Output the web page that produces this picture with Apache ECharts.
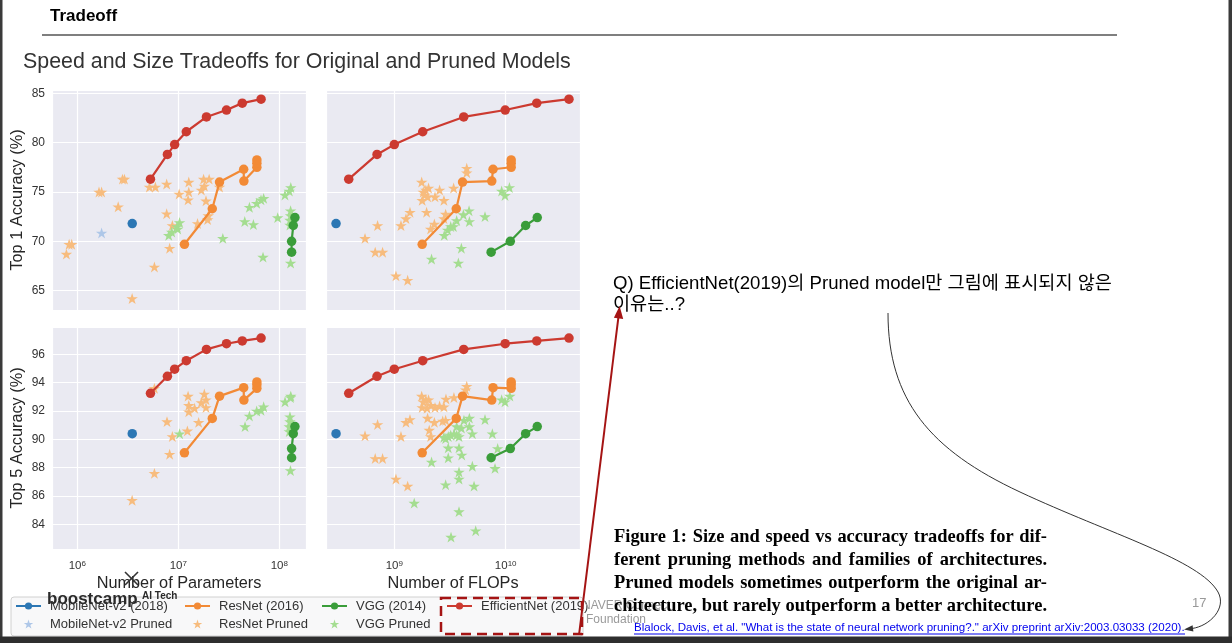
<!DOCTYPE html>
<html><head><meta charset="utf-8">
<script src="https://cdn.jsdelivr.net/npm/echarts@6/dist/echarts.min.js"></script>
<style>html,body{margin:0;padding:0;background:#fff;}#c{width:1232px;height:643px;}</style>
</head><body><div id="c"></div>
<script>
// ---------------- DATA ----------------
// MobileNet-v2 (2018)
const mobileParamsM = [3.5];
const mobileFlopsB = [0.30];
const mobileTop1 = [71.8];
const mobileTop5 = [90.4];
// ResNet (2016): 18, 34, 50, 101, 101, 152, 152, 152
const resnetParamsM = [11.5, 21.7, 25.6, 44.4, 44.6, 60.0, 60.0, 60.0];
const resnetFlopsB = [1.78, 3.6, 4.1, 7.7, 7.5, 11.2, 11.2, 11.2];
const resnetTop1 = [69.7, 73.3, 76.0, 77.3, 76.1, 77.5, 77.9, 78.25];
const resnetTop5 = [89.05, 91.48, 93.05, 93.65, 92.77, 93.6, 93.85, 94.05];
// VGG (2014)
const vggParamsM = [132.4, 132.4, 137.5, 142.8];
const vggFlopsB = [7.4, 11.0, 15.1, 19.2];
const vggTop1 = [68.9, 70.0, 71.6, 72.4];
const vggTop5 = [88.7, 89.35, 90.4, 90.9];
// EfficientNet (2019)
const effParamsM = [5.3, 7.8, 9.2, 12, 19, 30, 43, 66];
const effFlopsB = [0.39, 0.70, 1.0, 1.8, 4.2, 9.9, 19, 37];
const effTop1 = [76.3, 78.8, 79.8, 81.1, 82.6, 83.3, 84.0, 84.4];
const effTop5 = [93.25, 94.45, 94.95, 95.55, 96.35, 96.75, 96.95, 97.15];

// Pruned models: [params (M) or FLOPs (B), accuracy]
const mobilePrunedParamsTop1 = [[1.74, 70.85]];
const mobilePrunedFlopsTop1 = [];
const mobilePrunedParamsTop5 = [];
const mobilePrunedFlopsTop5 = [];

const resnetPrunedParamsTop1 = [[0.78,68.7],[0.83,69.7],[0.88,69.7],[1.64,75.0],[1.74,75.0],[2.54,73.5],[2.80,76.3],[2.93,76.3],[3.49,64.2],[5.18,75.5],[5.93,75.5],[5.80,67.4],[7.67,75.8],[7.67,72.8],[8.21,69.3],[8.73,71.6],[10.2,74.8],[12.7,76.0],[12.7,75.0],[12.5,74.2],[15.5,71.8],[16.9,75.2],[17.8,76.3],[18.1,75.6],[18.8,74.1],[20.2,76.3],[19.5,72.2],[19.8,72.6],[25.6,75.5]];
const vggPrunedParamsTop1 = [[8.04,70.6],[8.6,70.95],[9.7,71.5],[10.3,71.9],[9.85,71.25],[27.6,70.3],[45.5,72.0],[55.4,71.7],[50.6,73.45],[59.7,73.85],[65.9,74.2],[70.0,74.35],[69.0,68.4],[96.4,72.4],[113.8,74.7],[130,75.45],[125.6,75.1],[129.4,73.1],[129.4,72.6],[127.5,72.15],[127.5,71.65],[129.4,67.8]];

const resnetPrunedFlopsTop1 = [[0.546,70.3],[0.708,71.6],[0.674,68.9],[0.785,68.9],[1.035,66.5],[1.318,66.05],[1.148,71.6],[1.273,72.3],[1.383,72.95],[1.762,76.0],[1.82,75.0],[1.92,75.2],[2.03,75.4],[1.88,74.7],[1.78,74.15],[1.99,74.5],[2.32,74.5],[2.55,75.2],[2.79,74.15],[1.95,72.95],[2.12,71.25],[2.29,71.75],[2.89,72.75],[2.79,72.3],[3.41,75.4],[4.47,77.4],[4.47,76.95]];
const vggPrunedFlopsTop1 = [[2.16,68.2],[3.76,67.8],[4.0,69.3],[2.81,70.6],[3.01,71.15],[3.21,71.5],[3.39,71.5],[3.63,72.1],[4.17,72.7],[4.69,73.1],[4.72,72.0],[6.52,72.5],[9.2,75.1],[9.86,74.65],[10.8,75.45]];

const resnetPrunedParamsTop5 = [[3.49,85.7],[5.80,87.6],[5.80,93.6],[7.73,91.25],[8.21,88.95],[8.73,90.2],[12.3,90.6],[12.5,93.05],[12.7,92.4],[12.7,91.95],[14.5,92.2],[15.9,91.2],[16.9,92.6],[18.1,93.2],[18.8,92.8],[18.8,92.25]];
const vggPrunedParamsTop5 = [[10.3,90.4],[45.8,90.9],[50.6,91.65],[59.7,92.0],[65.9,92.05],[70.0,92.3],[114,92.65],[129,92.95],[130,93.05],[127.5,91.6],[127.5,91.25],[125.6,90.9],[125.6,90.55],[129,87.8]];

const resnetPrunedFlopsTop5 = [[0.546,90.25],[0.708,91.05],[0.674,88.65],[0.785,88.65],[1.035,87.2],[1.318,86.7],[1.148,90.2],[1.273,91.2],[1.383,91.4],[1.762,93.05],[1.82,92.65],[1.92,92.8],[2.03,92.8],[1.78,92.25],[1.97,92.2],[1.99,91.5],[2.13,92.4],[2.32,92.25],[2.55,92.35],[2.79,92.3],[2.91,92.85],[3.43,92.95],[4.47,93.75],[4.37,93.5],[2.06,90.65],[2.12,90.2],[2.29,91.2],[2.72,91.3],[2.89,91.35]];
const vggPrunedFlopsTop5 = [[2.16,88.4],[1.51,85.5],[2.89,86.8],[3.81,87.2],[3.81,87.7],[4.03,88.9],[3.81,89.4],[3.05,89.4],[3.05,88.7],[2.89,90.05],[3.05,90.2],[3.21,90.3],[3.44,90.4],[3.63,90.3],[3.81,90.2],[4.22,91.35],[4.72,91.5],[3.63,90.9],[4.0,90.8],[4.72,90.9],[5.02,90.4],[5.02,88.1],[5.2,86.7],[6.52,91.4],[7.59,90.4],[8.47,89.35],[8.02,87.95],[3.81,84.9],[3.23,83.1],[5.38,83.55],[9.2,92.8],[9.86,92.65],[10.9,93.05],[2.79,90.15]];

// Axis tick labels / names
const yTicksTop = [65, 70, 75, 80, 85];
const yTicksBottom = [84, 86, 88, 90, 92, 94, 96];
const seriesNames = ['MobileNet-v2 (2018)', 'ResNet (2016)', 'VGG (2014)', 'EfficientNet (2019)', 'MobileNet-v2 Pruned', 'ResNet Pruned', 'VGG Pruned'];

// ---------------- CHART ----------------
const SANS = '"Liberation Sans", Arial, sans-serif';
const SERIF = '"Liberation Serif", "Times New Roman", serif';
const COL = {blue:'#2c77b4', orange:'#f28a36', green:'#3a9d3a', red:'#cc3a30', lblue:'#aec7e8', lorange:'#f7bc7e', lgreen:'#a4dd90'};
const M = 1e6, B = 1e9;
const STAR = 'path://M50,0 L61.23,34.55 L97.55,34.55 L68.16,55.9 L79.39,90.45 L50,69.1 L20.61,90.45 L31.84,55.9 L2.45,34.55 L38.77,34.55 Z';

const gridBox = [
  {left:52, top:90, width:254, height:220},
  {left:326, top:90, width:254, height:220},
  {left:52, top:327, width:254, height:222},
  {left:326, top:327, width:254, height:222}
];
const grids = gridBox.map(g => Object.assign({show:true, backgroundColor:'#EAEAF2', borderWidth:0, containLabel:false, outerBoundsMode:'none'}, g));

function logLabel(v) {
  const e = Math.log10(v), r = Math.round(e);
  if (Math.abs(e - r) > 1e-6) return '';
  return '{b|10}{s|' + r + '}';
}
function xAxisDef(gi, min, max, showLabel, name) {
  return {type:'log', logBase:10, gridIndex:gi, min, max,
    axisLine:{show:false}, axisTick:{show:false},
    splitLine:{show:true, lineStyle:{color:'#ffffff', width:1.2}},
    axisLabel:{show:showLabel, margin:11, formatter:logLabel,
      rich:{b:{fontSize:11.5, fontFamily:SANS, color:'#333', verticalAlign:'bottom'},
            s:{fontSize:8, fontFamily:SANS, color:'#333', verticalAlign:'top'}}},
    name: name || '', nameLocation:'middle', nameGap:27,
    nameTextStyle:{fontSize:16.3, fontFamily:SANS, color:'#262626'}};
}
function yAxisDef(gi, min, max, step, ticks, showLabel, name) {
  return {type:'value', gridIndex:gi, min, max, minInterval:step, maxInterval:step,
    axisLine:{show:false}, axisTick:{show:false},
    splitLine:{show:true, lineStyle:{color:'#ffffff', width:1.2}},
    axisLabel:{show:showLabel, margin:7, fontSize:12, fontFamily:SANS, color:'#333',
      formatter: v => (ticks.some(t => Math.abs(t - v) < 1e-6) ? String(Math.round(v)) : '')},
    name: name || '', nameLocation:'middle', nameGap:26, nameRotate:90,
    nameTextStyle:{fontSize:16.3, fontFamily:SANS, color:'#262626'}};
}

const xL = [Math.pow(10, 5.7495), Math.pow(10, 8.2644)];
const xR = [Math.pow(10, 8.387), Math.pow(10, 10.667)];
const yT = [63.04, 85.33];
const yB = [82.26, 97.93];

const xAxes = [
  xAxisDef(0, xL[0], xL[1], false),
  xAxisDef(1, xR[0], xR[1], false),
  xAxisDef(2, xL[0], xL[1], true, 'Number of Parameters'),
  xAxisDef(3, xR[0], xR[1], true, 'Number of FLOPs')
];
const yAxes = [
  yAxisDef(0, yT[0], yT[1], 5, yTicksTop, true, 'Top 1 Accuracy (%)'),
  yAxisDef(1, yT[0], yT[1], 5, yTicksTop, false),
  yAxisDef(2, yB[0], yB[1], 2, yTicksBottom, true, 'Top 5 Accuracy (%)'),
  yAxisDef(3, yB[0], yB[1], 2, yTicksBottom, false)
];

function lineS(name, color, xs, scale, ys, gi) {
  const pts = xs.map((x, i) => [x * scale, ys[i]]).sort((a, b) => a[0] - b[0]);
  return {type:'line', name, xAxisIndex:gi, yAxisIndex:gi, data:pts, symbol:'circle', symbolSize:9.5,
    showSymbol:true, lineStyle:{color, width:2.2}, itemStyle:{color}, z:4, silent:true,
    emphasis:{disabled:true}, animation:false};
}
function starS(name, color, pts, scale, gi) {
  return {type:'scatter', name, xAxisIndex:gi, yAxisIndex:gi, data:pts.map(p => [p[0] * scale, p[1]]),
    symbol:STAR, symbolSize:11.5, symbolKeepAspect:true, itemStyle:{color, opacity:1}, z:2, silent:true,
    emphasis:{disabled:true}, animation:false};
}

const panels = [
  {gi:0, sc:M, mx:mobileParamsM, rx:resnetParamsM, vx:vggParamsM, ex:effParamsM, my:mobileTop1, ry:resnetTop1, vy:vggTop1, ey:effTop1,
   mp:mobilePrunedParamsTop1, rp:resnetPrunedParamsTop1, vp:vggPrunedParamsTop1},
  {gi:1, sc:B, mx:mobileFlopsB, rx:resnetFlopsB, vx:vggFlopsB, ex:effFlopsB, my:mobileTop1, ry:resnetTop1, vy:vggTop1, ey:effTop1,
   mp:mobilePrunedFlopsTop1, rp:resnetPrunedFlopsTop1, vp:vggPrunedFlopsTop1},
  {gi:2, sc:M, mx:mobileParamsM, rx:resnetParamsM, vx:vggParamsM, ex:effParamsM, my:mobileTop5, ry:resnetTop5, vy:vggTop5, ey:effTop5,
   mp:mobilePrunedParamsTop5, rp:resnetPrunedParamsTop5, vp:vggPrunedParamsTop5},
  {gi:3, sc:B, mx:mobileFlopsB, rx:resnetFlopsB, vx:vggFlopsB, ex:effFlopsB, my:mobileTop5, ry:resnetTop5, vy:vggTop5, ey:effTop5,
   mp:mobilePrunedFlopsTop5, rp:resnetPrunedFlopsTop5, vp:vggPrunedFlopsTop5}
];
const series = [];
panels.forEach(p => {
  series.push(starS(seriesNames[4], COL.lblue, p.mp, p.sc, p.gi));
  series.push(starS(seriesNames[5], COL.lorange, p.rp, p.sc, p.gi));
  series.push(starS(seriesNames[6], COL.lgreen, p.vp, p.sc, p.gi));
  series.push(lineS(seriesNames[0], COL.blue, p.mx, p.sc, p.my, p.gi));
  series.push(lineS(seriesNames[1], COL.orange, p.rx, p.sc, p.ry, p.gi));
  series.push(lineS(seriesNames[2], COL.green, p.vx, p.sc, p.vy, p.gi));
  series.push(lineS(seriesNames[3], COL.red, p.ex, p.sc, p.ey, p.gi));
});

const legendBase = {orient:'vertical', top:599, itemWidth:25, itemHeight:9, itemGap:4, padding:0,
  selectedMode:false, z:10,
  textStyle:{fontSize:13, fontFamily:SANS, color:'#333', lineHeight:14, padding:[0,0,0,4]}};
const legends = [
  Object.assign({}, legendBase, {left:15, data:[seriesNames[0], seriesNames[4]]}),
  Object.assign({}, legendBase, {left:184, data:[seriesNames[1], seriesNames[5]]}),
  Object.assign({}, legendBase, {left:321, data:[seriesNames[2], seriesNames[6]]}),
  Object.assign({}, legendBase, {left:446, data:[seriesNames[3]]})
];

// ---------------- SLIDE DECORATION ----------------
const mctx = document.createElement('canvas').getContext('2d');
function measure(text, font) { mctx.font = font; return mctx.measureText(text).width; }
const G = [];
function txt(x, y, text, font, fill, z, align) {
  G.push({type:'text', x, y, z: z == null ? 50 : z, silent:true,
    style:{text, font, fill, textAlign: align || 'left', textVerticalAlign:'middle'}});
}
function ln(x1, y1, x2, y2, stroke, w, z, dash) {
  const st = {stroke, lineWidth:w, fill:null};
  if (dash) st.lineDash = dash;
  G.push({type:'line', z: z == null ? 50 : z, silent:true, shape:{x1, y1, x2, y2}, style:st});
}
function poly(points, fill, z) {
  G.push({type:'polygon', z: z == null ? 50 : z, silent:true, shape:{points}, style:{fill}});
}

// frame
G.push({type:'rect', z:60, silent:true, shape:{x:0, y:0, width:2.5, height:643}, style:{fill:'#3a3a3a'}});
G.push({type:'rect', z:60, silent:true, shape:{x:1228.5, y:0, width:4, height:643}, style:{fill:'#3a3a3a'}});
G.push({type:'rect', z:60, silent:true, shape:{x:0, y:636.5, width:1232, height:7}, style:{fill:'#2e2e2e'}});

// header
txt(50, 16, 'Tradeoff', 'bold 17px ' + SANS, '#000');
ln(42, 35, 1117, 35, '#555', 1.5);
const title = 'Speed and Size Tradeoffs for Original and Pruned Models';
const titleSize = 20 * 548 / measure(title, '20px ' + SANS);
txt(23, 62, title, titleSize.toFixed(2) + 'px ' + SANS, '#333');

// question text
const qFontBase = '"Liberation Sans", "Noto Sans CJK KR", sans-serif';
const q1 = 'Q) EfficientNet(2019)의 Pruned model만 그림에 표시되지 않은';
let qSize = 17 * 499 / measure(q1, '17px ' + qFontBase);
qSize = Math.max(14, Math.min(19, qSize));
txt(613, 284, q1, qSize.toFixed(2) + 'px ' + qFontBase, '#000');
txt(613, 305, '이유는..?', qSize.toFixed(2) + 'px ' + qFontBase, '#000');

// NAVER logo text (behind caption)
txt(582, 606, 'NAVER Connect', '12px ' + SANS, '#9a9a9a', 40);
txt(586, 620, 'Foundation', '12px ' + SANS, '#9a9a9a', 40);

// caption (justified)
const capLines = ['Figure 1: Size and speed vs accuracy tradeoffs for dif-',
  'ferent pruning methods and families of architectures.',
  'Pruned models sometimes outperform the original ar-',
  'chitecture, but rarely outperform a better architecture.'];
const capX0 = 614, capW = 433, capY = [537, 560, 583, 606];
let capMax = 0;
capLines.forEach(l => { capMax = Math.max(capMax, measure(l, 'bold 17px ' + SERIF)); });
const capSize = 17 * capW / capMax;
const capFont = 'bold ' + capSize.toFixed(2) + 'px ' + SERIF;
capLines.forEach((l, li) => {
  const words = l.split(' ');
  const ws = words.map(w => measure(w, capFont));
  const sum = ws.reduce((a, b) => a + b, 0);
  const gap = (capW - sum) / (words.length - 1);
  let x = capX0;
  words.forEach((w, i) => { txt(x, capY[li], w, capFont, '#000', 45); x += ws[i] + gap; });
});

// page number
txt(1192, 603, '17', '13px ' + SANS, '#999');

// citation
const cite = 'Blalock, Davis, et al. "What is the state of neural network pruning?." arXiv preprint arXiv:2003.03033 (2020).';
const citeSize = 10 * 551 / measure(cite, '10px ' + SANS);
txt(634, 628, cite, citeSize.toFixed(2) + 'px ' + SANS, '#0000ee');
ln(634, 634, 1185, 634, '#0000ee', 1);

// legend box
G.push({type:'rect', z:1, silent:true, shape:{x:11, y:597, width:572, height:39, r:3},
  style:{fill:'#f8f8f9', stroke:'#d0d0d0', lineWidth:1}});

// boostcamp logo overlay
txt(47, 599, 'boostcamp', 'bold 17px ' + SANS, '#2a2a2a', 80);
txt(142, 596, 'AI Tech', 'bold 10px ' + SANS, '#2a2a2a', 80);
ln(125, 572, 138, 585, '#333', 1.6, 80);
ln(138, 572, 125, 585, '#333', 1.6, 80);

// dashed red box
G.push({type:'rect', z:90, silent:true, shape:{x:441, y:598, width:141, height:36},
  style:{fill:null, stroke:'#a51414', lineWidth:2.5, lineDash:[10, 6]}});

// red arrow
ln(579, 635, 618.3, 318, '#a51414', 2, 90);
poly([[619.6, 306], [623.2, 319], [613.9, 317.8]], '#a51414', 90);

// curved arrow
const curveStyle = {stroke:'#333', lineWidth:1, fill:null};
G.push({type:'bezierCurve', z:50, silent:true, shape:{x1:888, y1:313, cpx1:888, cpy1:400, cpx2:930, cpy2:450, x2:1020, y2:492}, style:curveStyle});
G.push({type:'bezierCurve', z:50, silent:true, shape:{x1:1020, y1:492, cpx1:1110, cpy1:534, cpx2:1200, cpy2:560, x2:1218, y2:592}, style:curveStyle});
G.push({type:'bezierCurve', z:50, silent:true, shape:{x1:1218, y1:592, cpx1:1227, cpy1:608, cpx2:1210, cpy2:626, x2:1192, y2:628.5}, style:curveStyle});
poly([[1184, 629.6], [1193.4, 631.6], [1192.6, 625.2]], '#333', 50);

const chart = echarts.init(document.getElementById('c'), null, {renderer:'canvas', width:1232, height:643});
chart.setOption({
  backgroundColor:'#ffffff',
  animation:false,
  grid: grids,
  xAxis: xAxes,
  yAxis: yAxes,
  legend: legends,
  series,
  graphic: {elements: G}
});
</script></body></html>
